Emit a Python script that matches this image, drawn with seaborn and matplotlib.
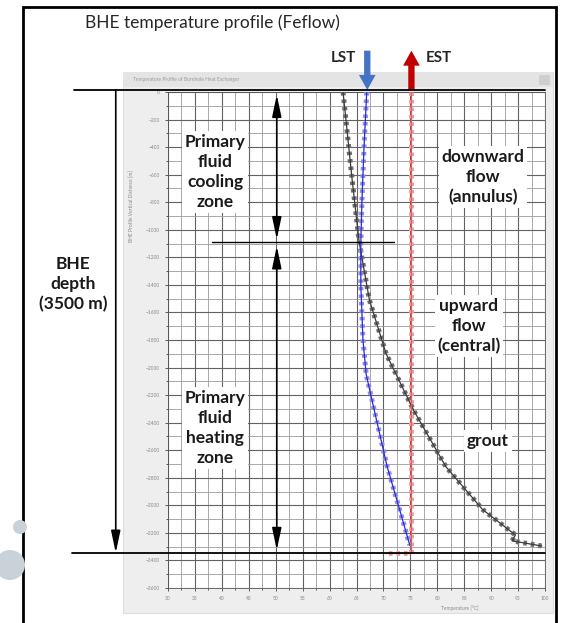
import matplotlib
matplotlib.use("Agg")
import matplotlib.pyplot as plt
import matplotlib.patches as mpatches
import matplotlib.transforms as mtrans
import seaborn as sns
import pandas as pd

# temperature profiles (depth in m, temp in degC)
grout_temp = [62.5, 63.3, 64.2, 65.5, 67.4, 70.5, 75.6, 81.6, 88.4, 94.5, 93.9, 99.4]
grout_depth = [0, -300, -640, -1090, -1510, -1900, -2310, -2720, -3030, -3215, -3258, -3295]

central_temp = [66.9, 66.4, 66.0, 65.8, 65.8, 66.2, 66.8, 68.3, 70.7, 73.0, 74.9]
central_depth = [0, -400, -800, -1100, -1400, -1800, -2050, -2310, -2720, -3030, -3290]

annulus_temp = [75.2, 75.2, 70.2]
annulus_depth = [0, -3345, -3345]

x_ticks = list(range(30, 101, 5))
y_ticks = list(range(0, -3601, -200))

bhe_top = 15
bhe_bottom = -3345
zone_split = -1089
lst = 67.0
est = 75.2
arrow_start = 300

W, H = 561, 623


def fx(px):
    return px / W


def fy(py):
    return 1 - py / H


sns.set_style("white")
plt.rcParams['font.family'] = ['Lato', 'DejaVu Sans']

fig = plt.figure(figsize=(W / 100, H / 100), dpi=100)

# outer frame of the slide
fig.add_artist(mpatches.Rectangle((fx(23), fy(640)), fx(556) - fx(23), (640 - 7) / H,
                                  transform=fig.transFigure, fill=False, lw=2, ec='black', zorder=0))
# grey window of the screenshot
fig.add_artist(mpatches.Rectangle((fx(123), fy(613)), fx(553) - fx(123), (613 - 72) / H,
                                  transform=fig.transFigure, fc='#eeeeee', ec='#dddddd', lw=0.8, zorder=0))
fig.add_artist(mpatches.Rectangle((fx(123), fy(87)), fx(553) - fx(123), 15 / H,
                                  transform=fig.transFigure, fc='#e4e4e4', ec='none', zorder=0))
fig.add_artist(mpatches.Rectangle((fx(539), fy(85)), fx(550) - fx(539), 10 / H,
                                  transform=fig.transFigure, fc='#cfcfcf', ec='none', zorder=0))
fig.text(fx(133), fy(79), 'Temperature Profile of Borehole Heat Exchanger', fontsize=3.5,
         color='#999999', va='center')

# decorative circles on the left
pix = mtrans.IdentityTransform()
fig.add_artist(mpatches.Circle((10, H - 565), 15, transform=pix, fc='#c8d2d8', ec='none', zorder=0))
fig.add_artist(mpatches.Circle((20, H - 527), 7, transform=pix, fc='#c8d2d8', ec='none', zorder=0))

fig.text(fx(85), fy(23), 'BHE temperature profile (Feflow)', fontsize=12.5, va='center', ha='left')

ax = fig.add_axes([fx(168), fy(588), fx(545) - fx(168), (588 - 92) / H])
ax.set_facecolor('white')

for temp, depth, base, dots in [(grout_temp, grout_depth, '#3a3a3a', '#6e6e6e'),
                                (annulus_temp, annulus_depth, '#ec5a5a', '#f4a0a0'),
                                (central_temp, central_depth, '#2a2ad0', '#8f8ff0')]:
    df = pd.DataFrame({'temp': temp, 'depth': depth})
    sns.lineplot(data=df, x='temp', y='depth', sort=False, estimator=None, ax=ax,
                 color=dots, lw=3.6, linestyle=(0, (0.7, 0.8)), zorder=3)
    sns.lineplot(data=df, x='temp', y='depth', sort=False, estimator=None, ax=ax,
                 color=base, lw=0.9, zorder=4)

ax.set_xlim(30, 100)
ax.set_ylim(-3600, 0)
ax.set_xticks(x_ticks)
ax.set_xticks([t + 2.5 for t in x_ticks[:-1]], minor=True)
ax.set_yticks(y_ticks)
ax.set_yticks([t - 100 for t in y_ticks[:-1]], minor=True)
ax.tick_params(which='both', direction='out', labelsize=3.5, labelcolor='#888888', color='#444444',
               bottom=True, left=True, length=2.5, width=0.6)
ax.tick_params(which='minor', length=1.5)
ax.grid(which='major', color='#626262', lw=0.8)
ax.grid(which='minor', color='#9a9a9a', lw=0.6)
ax.set_axisbelow(True)
for s in ax.spines.values():
    s.set_color('#555555')
    s.set_linewidth(0.6)
ax.set_xlabel('Temperature [°C]', fontsize=3.5, color='#888888')
ax.xaxis.set_label_coords(0.775, -0.035)
ax.set_ylabel('BHE Profile Vertical Distance [m]', fontsize=3.5, color='#888888')
ax.yaxis.set_label_coords(-0.09, 0.77)

# BHE top / bottom lines and zone split
ax.plot([12.6, 100], [bhe_top, bhe_top], color='black', lw=1.3, clip_on=False, zorder=6)
ax.plot([12.2, 100], [bhe_bottom, bhe_bottom], color='black', lw=1.3, clip_on=False, zorder=6)
ax.plot([38.2, 72.0], [zone_split, zone_split], color='black', lw=1.0, zorder=6)

head = dict(color='black', lw=1.2, shrinkA=0, shrinkB=0)
one_head = '-|>,head_length=0.95,head_width=0.2'
two_head = '<|-|>,head_length=0.95,head_width=0.2'
ax.annotate('', xy=(20.3, bhe_bottom), xytext=(20.3, bhe_top), annotation_clip=False,
            arrowprops=dict(arrowstyle=one_head, mutation_scale=14, **head))
ax.annotate('', xy=(50.2, zone_split + 20), xytext=(50.2, -20), annotation_clip=False,
            arrowprops=dict(arrowstyle=two_head, mutation_scale=14, **head))
ax.annotate('', xy=(50.2, bhe_bottom + 20), xytext=(50.2, zone_split - 30), annotation_clip=False,
            arrowprops=dict(arrowstyle=two_head, mutation_scale=14, **head))

# LST / EST arrows above the plot
ax.annotate('', xy=(lst, bhe_top), xytext=(lst, arrow_start), annotation_clip=False,
            arrowprops=dict(arrowstyle='simple,head_length=0.9,head_width=1.0,tail_width=0.38',
                            mutation_scale=12, fc='#4472c4', ec='none', shrinkA=0, shrinkB=0))
ax.annotate('', xy=(est, arrow_start), xytext=(est, bhe_top), annotation_clip=False,
            arrowprops=dict(arrowstyle='simple,head_length=0.9,head_width=1.0,tail_width=0.38',
                            mutation_scale=12, fc='#c00000', ec='none', shrinkA=0, shrinkB=0))
fig.text(fx(356), fy(58), 'LST', fontsize=11, fontweight='bold', ha='right', va='center')
fig.text(fx(426), fy(58), 'EST', fontsize=11, fontweight='bold', ha='left', va='center')

box = dict(facecolor='white', edgecolor='none', pad=2)
labels = [
    (215, 172, 'Primary\nfluid\ncooling\nzone'),
    (483, 177, 'downward\nflow\n(annulus)'),
    (73, 284, 'BHE\ndepth\n(3500 m)'),
    (469, 326, 'upward\nflow\n(central)'),
    (215, 428, 'Primary\nfluid\nheating\nzone'),
    (488, 441, 'grout'),
]
for px, py, txt in labels:
    fig.text(fx(px), fy(py), txt, fontsize=12.5, fontweight='bold', ha='center', va='center',
             linespacing=1.3, bbox=box, zorder=7, color='#1a1a1a')

fig.savefig('out.png', dpi=100)
